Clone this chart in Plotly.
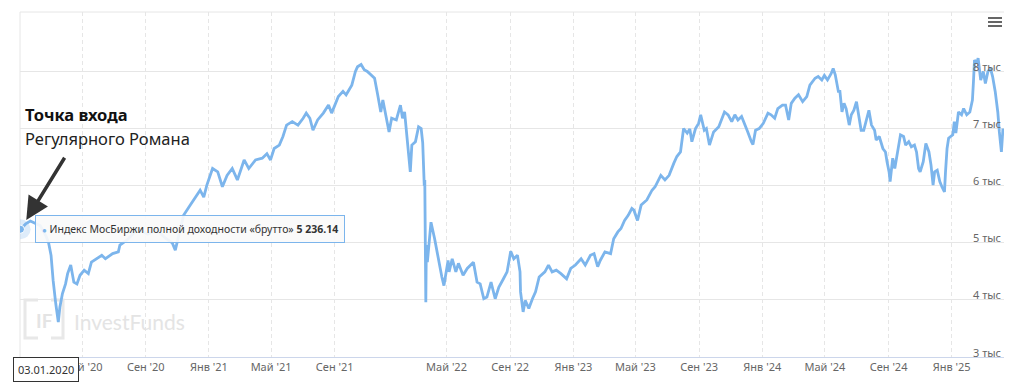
import plotly.graph_objects as go

dates = [
"2020-01-03","2020-01-13","2020-01-22","2020-02-10","2020-02-21","2020-02-26","2020-03-02","2020-03-04","2020-03-06","2020-03-11",
"2020-03-16","2020-03-19","2020-03-24","2020-03-30","2020-04-03","2020-04-09","2020-04-15","2020-04-21","2020-04-27","2020-05-05",
"2020-05-13","2020-05-19","2020-05-28","2020-06-08","2020-06-15","2020-06-29","2020-07-10","2020-07-13","2020-07-27","2020-08-17",
"2020-09-04","2020-09-23","2020-10-09","2020-10-22","2020-10-28","2020-11-05","2020-11-13","2020-11-26","2020-12-09","2020-12-15",
"2020-12-22","2020-12-28","2021-01-08","2021-01-18","2021-01-27","2021-02-05","2021-02-15","2021-02-25","2021-03-10","2021-03-19",
"2021-04-01","2021-04-14","2021-04-23","2021-04-30","2021-05-07","2021-05-17","2021-05-24","2021-05-31","2021-06-11","2021-06-22",
"2021-07-02","2021-07-08","2021-07-15","2021-07-21","2021-07-30","2021-08-10","2021-08-20","2021-08-26","2021-09-08","2021-09-17",
"2021-09-23","2021-10-04","2021-10-11","2021-10-15","2021-10-22","2021-10-28","2021-11-03","2021-11-10","2021-11-17","2021-11-23",
"2021-11-29","2021-12-03","2021-12-09","2021-12-15","2021-12-20","2021-12-29","2022-01-06","2022-01-10","2022-01-14","2022-01-20",
"2022-01-25","2022-01-28","2022-02-04","2022-02-10","2022-02-15","2022-02-18","2022-02-21","2022-02-22","2022-02-24","2022-02-25",
"2022-03-25","2022-04-01","2022-04-08","2022-04-15","2022-04-22","2022-04-26","2022-05-04","2022-05-06","2022-05-12","2022-05-19",
"2022-05-24","2022-06-02","2022-06-10","2022-06-22","2022-06-29","2022-07-05","2022-07-12","2022-07-18","2022-07-26","2022-08-03",
"2022-08-10","2022-08-19","2022-08-26","2022-09-02","2022-09-08","2022-09-15","2022-09-20","2022-09-21","2022-09-26","2022-09-30",
"2022-10-07","2022-10-14","2022-10-20","2022-10-27","2022-11-07","2022-11-14","2022-11-21","2022-11-29","2022-12-08","2022-12-19",
"2022-12-27","2023-01-05","2023-01-16","2023-01-24","2023-02-03","2023-02-10","2023-02-17","2023-02-22","2023-03-03","2023-03-14",
"2023-03-20","2023-03-28","2023-04-03","2023-04-10","2023-04-17","2023-04-24","2023-04-28","2023-05-05","2023-05-12","2023-05-23",
"2023-06-02","2023-06-08","2023-06-19","2023-06-27","2023-07-05","2023-07-14","2023-07-20","2023-07-27","2023-08-02","2023-08-09",
"2023-08-14","2023-08-18","2023-08-25","2023-08-31","2023-09-04","2023-09-11","2023-09-15","2023-09-21","2023-09-29","2023-10-09",
"2023-10-16","2023-10-20","2023-10-27","2023-11-03","2023-11-09","2023-11-15","2023-11-22","2023-11-28","2023-12-04","2023-12-11",
"2023-12-14","2023-12-19","2023-12-26","2024-01-03","2024-01-12","2024-01-18","2024-01-25","2024-01-31","2024-02-09","2024-02-15",
"2024-02-21","2024-02-26","2024-03-04","2024-03-11","2024-03-19","2024-03-27","2024-04-02","2024-04-12","2024-04-18","2024-04-25",
"2024-04-30","2024-05-06","2024-05-13","2024-05-17","2024-05-21","2024-05-27","2024-05-30","2024-06-03","2024-06-07","2024-06-11",
"2024-06-17","2024-06-21","2024-06-26","2024-07-01","2024-07-05","2024-07-10","2024-07-15","2024-07-22","2024-07-25","2024-07-30",
"2024-08-05","2024-08-08","2024-08-14","2024-08-21","2024-08-26","2024-08-29","2024-09-02","2024-09-04","2024-09-09","2024-09-13",
"2024-09-18","2024-09-24","2024-09-30","2024-10-04","2024-10-10","2024-10-15","2024-10-21","2024-10-25","2024-10-29","2024-11-01",
"2024-11-07","2024-11-12","2024-11-18","2024-11-22","2024-11-26","2024-11-29","2024-12-04","2024-12-09","2024-12-13","2024-12-18",
"2024-12-20","2024-12-23","2024-12-26","2025-01-03","2025-01-06","2025-01-09","2025-01-14","2025-01-20","2025-01-24","2025-01-30",
"2025-02-05","2025-02-10","2025-02-12","2025-02-14","2025-02-18","2025-02-21","2025-02-26","2025-03-03","2025-03-07","2025-03-12",
"2025-03-17","2025-03-21","2025-03-26","2025-03-31","2025-04-03","2025-04-07","2025-04-10",
]

values = [
5236.14,5330,5380,5300,5120,5010,4780,4490,4340,3940,
3610,3870,4110,4280,4460,4610,4310,4280,4430,4520,
4460,4660,4720,4780,4720,4810,4840,4960,5050,5250,
5150,5220,5080,5000,4870,5150,5480,5660,5830,5920,
5800,6010,6300,6240,5980,6180,6300,6100,6450,6300,
6450,6480,6560,6450,6650,6710,6860,7060,7120,7060,
7180,7270,7180,6970,7150,7270,7410,7270,7560,7650,
7590,7760,8000,8080,8120,8030,8000,7940,7880,7590,
7290,7500,7240,6940,7180,7150,7410,7180,7290,6650,
6240,6710,6770,7030,7000,6750,6000,6100,3960,4960,
4660,5360,5070,4720,4400,4250,4690,4490,4720,4490,
4640,4430,4550,4660,4310,4280,4020,4050,4310,4020,
4220,4370,4490,4850,4720,4780,4490,4140,3790,3990,
3850,4020,4140,4400,4490,4610,4490,4520,4460,4370,
4550,4610,4720,4610,4780,4810,4580,4690,4840,4810,
5070,5190,5250,5390,5480,5600,5570,5390,5660,5750,
5920,5980,6180,6100,6180,6390,6510,6590,7000,6920,
6990,6770,7000,7090,7240,6970,7000,6710,6940,7030,
7180,7290,7240,7120,7240,7150,7210,7090,6940,6770,
6720,6970,7000,7090,7270,7240,7180,7350,7410,7410,
7150,7440,7530,7590,7470,7560,7760,7880,7910,7850,
7930,7850,7960,8050,7940,7650,7650,7290,7440,7350,
7060,7240,7320,7470,7210,6970,6970,7240,7320,7060,
6970,6800,6860,6650,6590,6420,6240,6070,6480,6300,
6590,6890,6860,6710,6770,6680,6710,6590,6300,6240,
6420,6740,6590,6360,6010,6240,6270,6070,5980,5890,
6240,6650,6830,6890,7120,6920,7290,7240,7350,7240,
7290,7500,7820,8200,8140,8230,7850,8000,7790,8000,
8050,7910,7650,7290,6940,6590,7000,
]

series_name = "Индекс МосБиржи полной доходности «брутто»"

x_tick_dates = ["2020-05-01","2020-09-01","2021-01-01","2021-05-01","2021-09-01",
                "2022-05-01","2022-09-01","2023-01-01","2023-05-01","2023-09-01",
                "2024-01-01","2024-05-01","2024-09-01","2025-01-01"]
x_tick_labels = ["Май '20","Сен '20","Янв '21","Май '21","Сен '21",
                 "Май '22","Сен '22","Янв '23","Май '23","Сен '23",
                 "Янв '24","Май '24","Сен '24","Янв '25"]
y_tick_vals = [3000, 4000, 5000, 6000, 7000, 8000]
y_tick_labels = ["3 тыс", "4 тыс", "5 тыс", "6 тыс", "7 тыс", "8 тыс"]

LINE = "#7cb5ec"
GRID = "#e6e6e6"
FONT = "Noto Sans"

fig = go.Figure()
fig.add_trace(go.Scatter(x=dates, y=values, mode="lines", name=series_name,
                         line=dict(color=LINE, width=2.8), hoverinfo="skip"))
# highlighted first point (halo + dot)
fig.add_trace(go.Scatter(x=[dates[0]], y=[values[0]], mode="markers",
                         marker=dict(size=20, color="rgba(124,181,236,0.25)"),
                         hoverinfo="skip"))
fig.add_trace(go.Scatter(x=[dates[0]], y=[values[0]], mode="markers",
                         marker=dict(size=8, color=LINE, line=dict(color="white", width=1)),
                         hoverinfo="skip"))

first_val = f"{values[0]:,.2f}".replace(",", " ")
d0 = dates[0].split("-")
flag_text = f"{d0[2]}.{d0[1]}.{d0[0]}"

annotations = [
    # tooltip
    dict(x=dates[0], y=values[0], xref="x", yref="y", xanchor="left", yanchor="middle",
         xshift=14, showarrow=False,
         text=f"<span style='color:{LINE};font-size:8px'>●</span> {series_name} <b>{first_val}</b>",
         font=dict(family=FONT, size=10.5, color="#333333"),
         bgcolor="rgba(250,250,250,0.92)", bordercolor=LINE, borderwidth=1, borderpad=6),
    # arrow
    dict(x=dates[0], y=values[0], xref="x", yref="y", text="", showarrow=True,
         ax=45, ay=-73, axref="pixel", ayref="pixel", standoff=11,
         arrowhead=2, arrowsize=1.3, arrowwidth=3.5, arrowcolor="#333333"),
    # headline
    dict(x=0, y=(357 - 115) / 344, xref="paper", yref="paper", xanchor="left", yanchor="middle",
         xshift=3, showarrow=False, text="<b>Точка входа</b>",
         font=dict(family=FONT, size=16.5, color="#111111")),
    dict(x=0, y=(357 - 139) / 344, xref="paper", yref="paper", xanchor="left", yanchor="middle",
         xshift=3, showarrow=False, text="Регулярного Романа",
         font=dict(family=FONT, size=16.5, color="#222222")),
    # date flag
    dict(x=0, y=0, xref="paper", yref="paper", xanchor="left", yanchor="middle",
         xshift=-7, yshift=-12, showarrow=False, text=flag_text,
         font=dict(family=FONT, size=11, color="#333333"),
         bgcolor="white", bordercolor="#333333", borderwidth=1, borderpad=4),
    # watermark
    dict(x=0, y=0, xref="paper", yref="paper", xanchor="left", yanchor="middle",
         xshift=52, yshift=36, showarrow=False, text="InvestFunds",
         font=dict(family="Lato", size=21, color="#e4e4e4")),
    dict(x=0, y=0, xref="paper", yref="paper", xanchor="center", yanchor="middle",
         xshift=24, yshift=37, showarrow=False, text="<b>IF</b>",
         font=dict(family="Lato", size=19, color="#e4e4e4")),
]
# y-axis labels drawn inside the plot, right aligned, just above each grid line
for v, lab in zip(y_tick_vals, y_tick_labels):
    annotations.append(dict(x=1, y=v, xref="paper", yref="y", xanchor="right", yanchor="middle",
                            xshift=-1, yshift=5, showarrow=False, text=lab,
                            font=dict(family=FONT, size=11, color="#666666")))

shapes = [
    dict(type="line", xref="paper", yref="paper", x0=0, x1=1, y0=1, y1=1,
         line=dict(color=GRID, width=1), layer="below"),
    dict(type="line", xref="paper", yref="paper", x0=0, x1=0, y0=0, y1=1,
         line=dict(color=GRID, width=1), layer="below"),
    dict(type="path", xref="paper", yref="paper", xsizemode="pixel", ysizemode="pixel",
         xanchor=0, yanchor=0, path="M 18,57 H 5 V 19 H 18",
         line=dict(color="#e8e8e8", width=3), layer="below"),
    dict(type="path", xref="paper", yref="paper", xsizemode="pixel", ysizemode="pixel",
         xanchor=0, yanchor=0, path="M 31,57 H 43 V 19 H 31",
         line=dict(color="#e8e8e8", width=3), layer="below"),
]
for off in (5, 9, 13):
    shapes.append(dict(type="rect", xref="paper", yref="paper", xsizemode="pixel", ysizemode="pixel",
                       xanchor=1, yanchor=1, x0=-16, x1=-2, y0=-off - 2, y1=-off,
                       fillcolor="#666666", line=dict(width=0)))

fig.update_layout(
    width=1024, height=388,
    margin=dict(l=20, r=20, t=12, b=31),
    paper_bgcolor="white", plot_bgcolor="white",
    showlegend=False,
    font=dict(family=FONT, size=11, color="#666666"),
    annotations=annotations, shapes=shapes,
    xaxis=dict(
        type="date",
        range=["2020-01-02", "2025-04-12"],
        rangebreaks=[dict(bounds=["2022-02-26", "2022-03-24"])],
        tickmode="array", tickvals=x_tick_dates, ticktext=x_tick_labels,
        showgrid=True, gridcolor=GRID, gridwidth=1, griddash="4px,3px",
        showline=True, linecolor="#ccd6eb", linewidth=1,
        ticks="", zeroline=False,
        tickfont=dict(family=FONT, size=11, color="#666666"),
    ),
    yaxis=dict(
        range=[3000, 9040], side="right",
        tickmode="array", tickvals=y_tick_vals, showticklabels=False,
        showgrid=True, gridcolor=GRID, gridwidth=1, zeroline=False,
        showline=False, ticks="",
    ),
)

fig.write_html("out.html", config={"displayModeBar": False},
               post_script="document.body.style.margin='0';")
